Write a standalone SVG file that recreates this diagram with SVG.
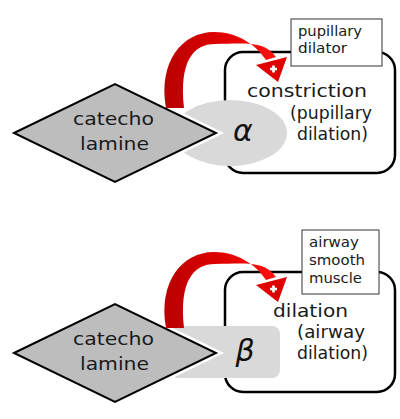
<svg xmlns="http://www.w3.org/2000/svg" width="400" height="419" viewBox="0 0 400 419">
<defs>
<linearGradient id="rg" x1="0" y1="0" x2="1" y2="0">
<stop offset="0" stop-color="#b80000"/>
<stop offset="0.5" stop-color="#e00000"/>
<stop offset="1" stop-color="#ff1010"/>
</linearGradient>
<g id="arrow">
<path d="M166,108 C158,62 182,32 214,32 C238,32 256,45 266,60 L276,57 C264,40 243,44 215,44 C193,44 179,62 184,108 Z" fill="url(#rg)"/>
<polygon points="256,65 287,57 278,82" fill="#e00000"/>
<path d="M270,69 h7 M273.5,65.5 v7" stroke="#fff" stroke-width="2.6"/>
</g>
</defs>
<style>
.t{font-family:"DejaVu Sans","Liberation Sans",sans-serif;fill:#1a1a1a}
.big{font-size:17.5px}
.sm{font-size:13.5px}
.greek{font-family:"DejaVu Sans","Liberation Sans",sans-serif;font-style:italic;font-size:30px;fill:#111}
.box{fill:#fff;stroke:#000;stroke-width:2.5}
.lbl{fill:#fff;stroke:#333;stroke-width:1}
.rec{fill:#d9d9d9}
.dia{fill:#bdbdbd;stroke:#000;stroke-width:2;stroke-linejoin:miter}
.halo{fill:none;stroke:#fff;stroke-width:7}
</style>

<g id="top-effect">
<rect class="box" x="225" y="52" width="170" height="121" rx="18"/>
<text class="t big" x="247" y="97" textLength="120" lengthAdjust="spacingAndGlyphs">constriction</text>
<text class="t big" x="290" y="119" textLength="82" lengthAdjust="spacingAndGlyphs">(pupillary</text>
<text class="t big" x="297" y="140" textLength="71" lengthAdjust="spacingAndGlyphs">dilation)</text>
</g>
<g id="top-organ">
<rect class="lbl" x="291" y="19" width="91" height="47"/>
<text class="t sm" x="298" y="36" textLength="64" lengthAdjust="spacingAndGlyphs">pupillary</text>
<text class="t sm" x="298" y="53" textLength="49" lengthAdjust="spacingAndGlyphs">dilator</text>
</g>
<g id="top-receptor">
<ellipse class="rec" cx="230" cy="133" rx="57" ry="33"/>
<text class="greek" x="243" y="141" text-anchor="middle">α</text>
</g>
<g id="top-catecholamine">
<polygon class="halo" points="14,133 115,84 216,133 115,182"/>
<polygon class="dia" points="14,133 115,84 216,133 115,182"/>
<text class="t big" x="73" y="125" textLength="81" lengthAdjust="spacingAndGlyphs">catecho</text>
<text class="t big" x="80" y="150" textLength="69" lengthAdjust="spacingAndGlyphs">lamine</text>
</g>

<g id="bottom-effect">
<rect class="box" x="225" y="272" width="170" height="120" rx="18"/>
<text class="t big" x="273" y="317" textLength="75" lengthAdjust="spacingAndGlyphs">dilation</text>
<text class="t big" x="297" y="338" textLength="68" lengthAdjust="spacingAndGlyphs">(airway</text>
<text class="t big" x="297" y="359" textLength="71" lengthAdjust="spacingAndGlyphs">dilation)</text>
</g>
<g id="bottom-organ">
<rect class="lbl" x="302" y="230" width="77" height="64"/>
<text class="t sm" x="309" y="247" textLength="50" lengthAdjust="spacingAndGlyphs">airway</text>
<text class="t sm" x="309" y="265" textLength="56" lengthAdjust="spacingAndGlyphs">smooth</text>
<text class="t sm" x="309" y="283" textLength="53" lengthAdjust="spacingAndGlyphs">muscle</text>
</g>
<g id="bottom-receptor">
<rect class="rec" x="170" y="326" width="110" height="52" rx="8"/>
<text class="greek" x="245" y="361" text-anchor="middle">β</text>
</g>
<g id="bottom-catecholamine">
<polygon class="halo" points="14,353 115,304 216,353 115,402"/>
<polygon class="dia" points="14,353 115,304 216,353 115,402"/>
<text class="t big" x="73" y="345" textLength="81" lengthAdjust="spacingAndGlyphs">catecho</text>
<text class="t big" x="80" y="370" textLength="69" lengthAdjust="spacingAndGlyphs">lamine</text>
</g>

<g id="connectors">
<use href="#arrow"/>
<use href="#arrow" transform="translate(0,220)"/>
</g>
</svg>
